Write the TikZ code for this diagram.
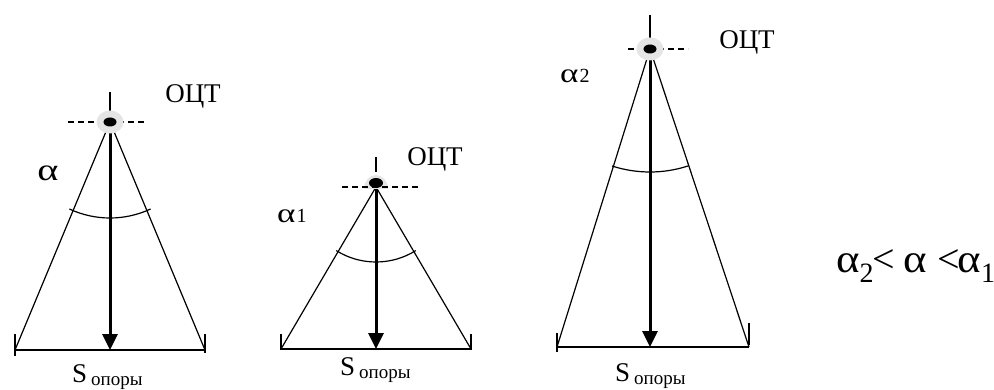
\documentclass[tikz,border=0pt]{standalone}
\usepackage{fontspec}
\usepackage{graphicx}
\setmainfont{Liberation Serif}
\usetikzlibrary{arrows.meta,shapes.geometric,calc}
\tikzset{
  side/.style={line width=1.2pt},
  basel/.style={line width=1.2pt},
  tickl/.style={line width=1.2pt},
  arcl/.style={line width=1.2pt},
  fall/.style={line width=3pt,-{Triangle[length=16pt,width=15pt]}},
  axisdash/.style={line width=2pt,dash pattern=on 6pt off 4pt},
  halo/.style={ellipse,fill=black!10,draw=none,minimum width=27pt,minimum height=23pt,inner sep=0pt},
  dotc/.style={ellipse,fill=black,draw=none,minimum width=13pt,minimum height=9pt,inner sep=0pt},
  lbl/.style={inner sep=0pt,font=\fontsize{27}{30}\selectfont},
  alab/.style={inner sep=0pt,font=\fontsize{31}{34}\selectfont},
  slab/.style={inner sep=0pt,anchor=base west,font=\fontsize{27}{30}\selectfont},
}
\newcommand{\sop}{S\hspace{4pt}\raisebox{-3pt}{\fontsize{19}{22}\selectfont опоры}}
\newcommand{\wal}{\scalebox{1.3}[1]{α}}
\begin{document}
\begin{tikzpicture}[x=1pt,y=-1pt]
\useasboundingbox (0,0) rectangle (994,390);
% ---------- figure 1 ----------
\coordinate (A1) at (110,122);
\coordinate (L1) at (15,350);
\coordinate (R1) at (205,350);
\coordinate (M1) at (110,350);
\coordinate (T1) at (110,92);
\coordinate (DL1) at (68,122);
\coordinate (DR1) at (146,122);
\draw[side] (A1) -- (L1);
\draw[side] (A1) -- (R1);
\draw[basel] (L1) -- (R1);
\draw[tickl] ($(L1)+(0,-16)$) -- ($(L1)+(0,6)$);
\draw[tickl] ($(R1)+(0,-16)$) -- ($(R1)+(0,3)$);
\draw[arcl] (A1) ++(115:96) arc[start angle=115,end angle=65,radius=96];
\draw[fall] (A1) -- (M1);
\draw[axisdash] (DL1) -- (DR1);
\draw[tickl] (T1) -- (A1);
\node[halo] (h1) at (A1) {};
\node[dotc] (d1) at (A1) {};
\node[lbl] (o1) at (193,96) {ОЦТ};
\node[alab] (a1) at (48,173) {\wal};
\node[slab] (s1) at (72,382) {\sop};
% ---------- figure 2 ----------
\coordinate (A2) at (376,187);
\coordinate (L2) at (281,349);
\coordinate (R2) at (471,349);
\coordinate (M2) at (376,349);
\coordinate (T2) at (376,157);
\coordinate (DL2) at (342,187);
\coordinate (DR2) at (418,187);
\draw[side] (A2) -- (L2);
\draw[side] (A2) -- (R2);
\draw[basel] (L2) -- (R2);
\draw[tickl] ($(L2)+(0,-15)$) -- ($(L2)+(0,1)$);
\draw[tickl] ($(R2)+(0,-15)$) -- ($(R2)+(0,1)$);
\draw[arcl] (A2) ++(122:75) arc[start angle=122,end angle=58,radius=75];
\draw[fall] (A2) -- (M2);
\draw[tickl] (T2) -- ($(A2)+(0,-15)$);
\fill[black!10] ($(A2)+(-12,2)$) arc[start angle=180,end angle=360,x radius=12,y radius=14];
\draw[axisdash] (DL2) -- (DR2);
\node[dotc,minimum width=14pt,minimum height=10pt] (d2) at ($(A2)+(0,-4)$) {};
\node[lbl] (o2) at (435,159) {ОЦТ};
\node[alab,anchor=west,font=\fontsize{27}{30}\selectfont] (a2) at (277,216) {\wal\hspace{1pt}{\fontsize{20}{24}\selectfont 1}};
\node[slab] (s2) at (340,375) {\sop};
% ---------- figure 3 ----------
\coordinate (A3) at (650,49);
\coordinate (L3) at (557,347);
\coordinate (R3) at (749,347);
\coordinate (M3) at (650,347);
\coordinate (T3) at (650,15);
\coordinate (DL3) at (628,49);
\coordinate (DR3) at (688,49);
\draw[side] (A3) -- (L3);
\draw[side] (A3) -- (R3);
\draw[basel] (L3) -- (R3);
\draw[tickl] ($(L3)+(0,-14)$) -- ($(L3)+(0,5)$);
\draw[tickl] ($(R3)+(0,-24)$) -- ($(R3)+(0,-2)$);
\draw[arcl] (A3) ++(108:123) arc[start angle=108,end angle=72,radius=123];
\draw[fall] (A3) -- (M3);
\draw[axisdash] (DL3) -- (DR3);
\draw[tickl] (T3) -- (A3);
\node[halo] (h3) at (A3) {};
\node[dotc] (d3) at (A3) {};
\node[lbl] (o3) at (747,42) {ОЦТ};
\node[alab,anchor=west,font=\fontsize{27}{30}\selectfont] (a3) at (560,76) {\wal\hspace{1pt}{\fontsize{20}{24}\selectfont 2}};
\node[slab] (s3) at (615,381) {\sop};
% ---------- relation ----------
\node[alab,anchor=west,font=\fontsize{40}{44}\selectfont] (rel) at (836,266) {\scalebox{1.12}[1]{α}\textsubscript{2}\hspace{-2pt}<\hspace{-1pt} \scalebox{1.12}[1]{α} <\hspace{-2pt}\scalebox{1.12}[1]{α}\textsubscript{1}};
\end{tikzpicture}
\end{document}
